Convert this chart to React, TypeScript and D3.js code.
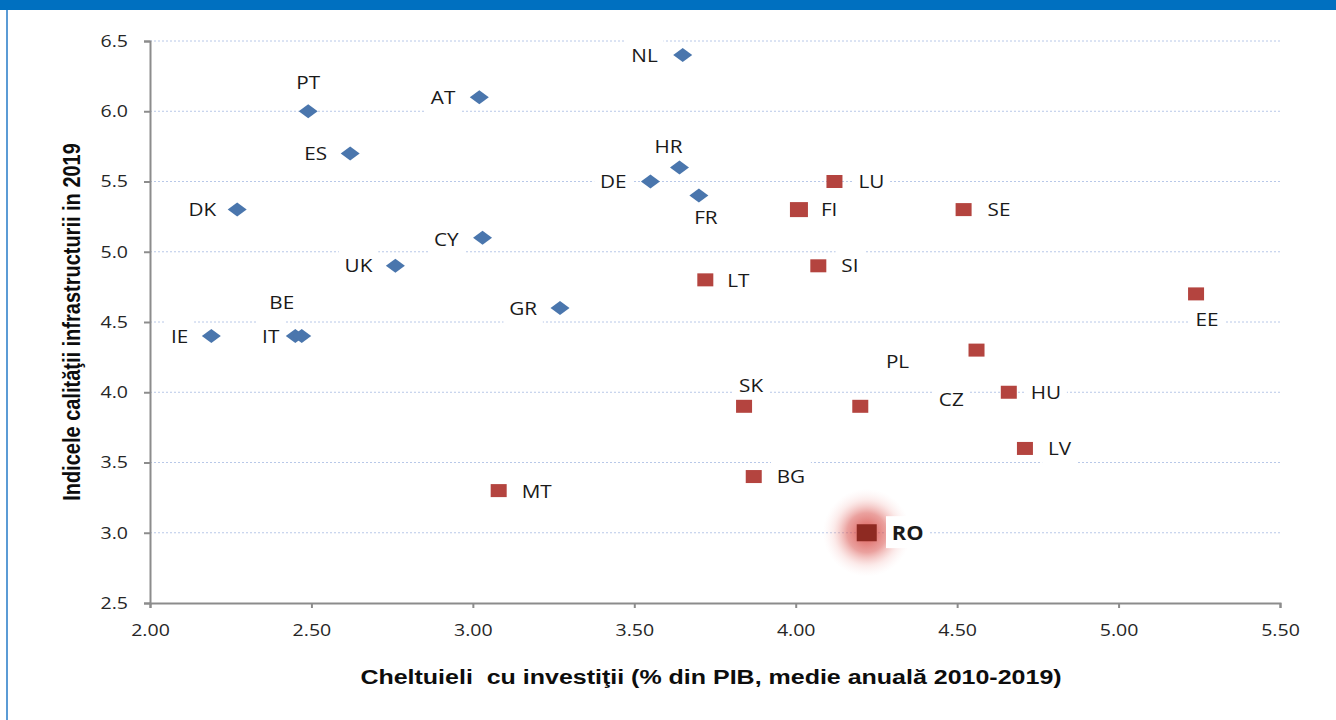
import React, { useEffect, useRef } from 'react';
import * as d3 from 'd3';

// countries shown as blue diamonds
const blueCountries = ['NL', 'PT', 'AT', 'ES', 'HR', 'DE', 'FR', 'DK', 'CY', 'UK', 'GR', 'IE', 'IT', 'BE'];
const blueInvest = [3.65, 2.49, 3.02, 2.62, 3.64, 3.55, 3.70, 2.27, 3.03, 2.76, 3.27, 2.19, 2.45, 2.47];
const blueQuality = [6.4, 6.0, 6.1, 5.7, 5.6, 5.5, 5.4, 5.3, 5.1, 4.9, 4.6, 4.4, 4.4, 4.4];

// countries shown as red squares
const redCountries = ['LU', 'FI', 'SE', 'SI', 'LT', 'EE', 'PL', 'HU', 'CZ', 'SK', 'LV', 'BG', 'MT', 'RO'];
const redInvest = [4.12, 4.01, 4.52, 4.07, 3.72, 5.24, 4.56, 4.66, 4.20, 3.84, 4.71, 3.87, 3.08, 4.22];
const redQuality = [5.5, 5.3, 5.3, 4.9, 4.8, 4.7, 4.3, 4.0, 3.9, 3.9, 3.6, 3.4, 3.3, 3.0];

const xTicks = [2.0, 2.5, 3.0, 3.5, 4.0, 4.5, 5.0, 5.5];
const yTicks = [2.5, 3.0, 3.5, 4.0, 4.5, 5.0, 5.5, 6.0, 6.5];

const xTitle = 'Cheltuieli  cu investiţii (% din PIB, medie anuală 2010-2019)';
const yTitle = 'Indicele calităţii infrastructurii in 2019';

// label placement (anchor, dx, dy) - hand placed like in the original chart
const labelPos: Record<string, [string, number, number]> = {
    NL: ['end', -25, 0], PT: ['middle', 0, -29], AT: ['end', -24, 0], ES: ['end', -23, 0],
    HR: ['middle', -11, -21], DE: ['end', -24, 0], FR: ['middle', 7, 22], DK: ['end', -21, 0],
    CY: ['end', -24, 2], UK: ['end', -23, 0], GR: ['end', -23, 1], IE: ['end', -23, 0],
    IT: ['end', -16, 0], BE: ['middle', -20, -34],
    LU: ['start', 24, 0], FI: ['start', 22, 0], SE: ['start', 24, 0], SI: ['start', 23, 0],
    LT: ['start', 22, 1], EE: ['middle', 11, 26], PL: ['middle', -79, 11], HU: ['start', 22, 0],
    CZ: ['middle', 91, -7], SK: ['middle', 7, -21], LV: ['start', 23, 0], BG: ['start', 23, 0],
    MT: ['start', 23, 1], RO: ['start', 25, 0],
};

const W = 1336;
const H = 720;
const margin = { left: 150, right: 56, top: 41, bottom: 117 };
const stretch = 1.15; // the original picture is a bit wide

const App = () => {
    const domref = useRef<SVGSVGElement>(null);

    useEffect(() => {
        const svg = d3.select(domref.current);
        svg.selectAll('*').remove();

        const x = d3.scaleLinear().domain([2, 5.5]).range([margin.left, W - margin.right]);
        const y = d3.scaleLinear().domain([2.5, 6.5]).range([H - margin.bottom, margin.top]);

        const points = [
            ...blueCountries.map((c, i) => ({ name: c, x: blueInvest[i], y: blueQuality[i], kind: 'blue' })),
            ...redCountries.map((c, i) => ({ name: c, x: redInvest[i], y: redQuality[i], kind: 'red' })),
        ];

        // frame
        svg.append('rect').attr('x', 0).attr('y', 0).attr('width', W).attr('height', H).attr('fill', '#fff');
        svg.append('rect').attr('x', 0).attr('y', 0).attr('width', W).attr('height', 10).attr('fill', '#0070C0');
        svg.append('rect').attr('x', 6).attr('y', 10).attr('width', 2).attr('height', H - 10).attr('fill', '#5B9BD5');

        const defs = svg.append('defs');
        const grad = defs.append('radialGradient').attr('id', 'glow');
        grad.append('stop').attr('offset', '0%').attr('stop-color', '#D23A34').attr('stop-opacity', 0.85);
        grad.append('stop').attr('offset', '45%').attr('stop-color', '#DA5550').attr('stop-opacity', 0.55);
        grad.append('stop').attr('offset', '75%').attr('stop-color', '#EE9A96').attr('stop-opacity', 0.2);
        grad.append('stop').attr('offset', '100%').attr('stop-color', '#F8D0D0').attr('stop-opacity', 0);

        // gridlines
        svg.append('g')
            .selectAll('line')
            .data(yTicks.filter(t => t > 2.5))
            .join('line')
            .attr('x1', x(2)).attr('x2', x(5.5))
            .attr('y1', d => y(d)).attr('y2', d => y(d))
            .attr('stroke', '#B8C8E8')
            .attr('stroke-width', 1)
            .attr('stroke-dasharray', '2,2');

        // axes
        const xAxis = svg.append('g')
            .attr('transform', `translate(0,${y(2.5)})`)
            .call(d3.axisBottom(x).tickValues(xTicks).tickFormat(d3.format('.2f')).tickSize(5).tickPadding(16));
        const yAxis = svg.append('g')
            .attr('transform', `translate(${x(2)},0)`)
            .call(d3.axisLeft(y).tickValues(yTicks).tickFormat(d3.format('.1f')).tickSize(6).tickPadding(16));
        [xAxis, yAxis].forEach(a => {
            a.selectAll('path').attr('stroke', '#8C8C8C').attr('stroke-width', 2);
            a.selectAll('line').attr('stroke', '#8C8C8C').attr('stroke-width', 2);
            a.selectAll('text')
                .attr('fill', '#262626')
                .attr('font-family', 'Open Sans, sans-serif')
                .attr('font-size', 17);
        });
        xAxis.selectAll('text').attr('transform', `scale(${stretch},1)`);
        yAxis.selectAll('text').attr('x', null).attr('transform', `translate(-22,0) scale(${stretch},1)`);

        // RO glow
        const ro = points.find(p => p.name === 'RO')!;
        svg.append('circle')
            .attr('cx', x(ro.x)).attr('cy', y(ro.y)).attr('r', 44)
            .attr('fill', 'url(#glow)');

        // labels: white box behind text
        const labels = svg.append('g');
        points.forEach(p => {
            const [anchor, dx, dy] = labelPos[p.name];
            const g = labels.append('g')
                .attr('transform', `translate(${x(p.x) + dx},${y(p.y) + dy}) scale(${stretch},1)`);
            const t = g.append('text')
                .attr('dy', '0.36em')
                .attr('text-anchor', anchor)
                .attr('font-family', 'Open Sans, sans-serif')
                .attr('font-size', p.name === 'RO' ? 19 : 18)
                .attr('font-weight', p.name === 'RO' ? 700 : 400)
                .attr('fill', '#1a1a1a')
                .text(p.name);
            const b = (t.node() as SVGTextElement).getBBox();
            g.insert('rect', 'text')
                .attr('x', b.x - 5).attr('y', b.y - 3)
                .attr('width', b.width + 10).attr('height', b.height + 6)
                .attr('fill', '#fff');
        });

        // markers
        svg.append('g')
            .selectAll('path')
            .data(points.filter(p => p.kind === 'blue'))
            .join('path')
            .attr('d', d => {
                const cx = x(d.x), cy = y(d.y);
                return `M${cx - 9.5},${cy} L${cx},${cy - 7} L${cx + 9.5},${cy} L${cx},${cy + 7} Z`;
            })
            .attr('fill', '#4A76AD');

        svg.append('g')
            .selectAll('rect')
            .data(points.filter(p => p.kind === 'red'))
            .join('rect')
            .each(function (d) {
                const w = d.name === 'RO' ? 20 : d.name === 'FI' ? 18 : 16;
                const h = d.name === 'RO' ? 17 : d.name === 'FI' ? 15 : 13;
                d3.select(this)
                    .attr('x', x(d.x) - w / 2).attr('y', y(d.y) - h / 2)
                    .attr('width', w).attr('height', h);
            })
            .attr('fill', d => d.name === 'RO' ? '#8E2A22' : '#B4443F');

        // axis titles
        svg.append('text')
            .attr('transform', `translate(${(x(2) + x(5.5)) / 2 - 4},684) scale(1.25,1)`)
            .attr('text-anchor', 'middle')
            .attr('font-family', 'Liberation Sans, Arial, sans-serif')
            .attr('font-weight', 700)
            .attr('font-size', 20)
            .attr('fill', '#0d0d0d')
            .style('white-space', 'pre')
            .text(xTitle);

        svg.append('text')
            .attr('transform', `translate(80,${(y(2.5) + y(6.5)) / 2}) scale(1.2,1) rotate(-90)`)
            .attr('text-anchor', 'middle')
            .attr('font-family', 'Liberation Sans, Arial, sans-serif')
            .attr('font-weight', 700)
            .attr('font-size', 20)
            .attr('fill', '#0d0d0d')
            .text(yTitle);
    }, []);

    return (
        <div style={{ position: 'fixed', left: 0, top: 0, width: W, height: H, background: '#fff' }}>
            <svg ref={domref} width={W} height={H} style={{ display: 'block' }}></svg>
        </div>
    );
};

export default App;
